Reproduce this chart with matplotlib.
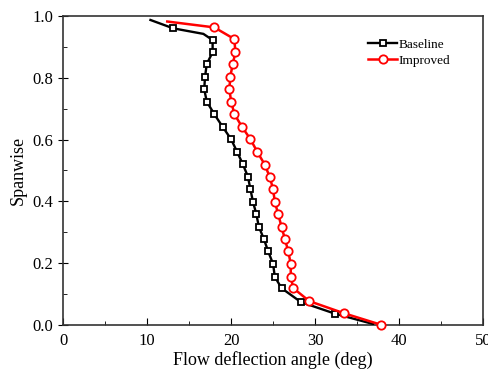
import matplotlib
matplotlib.use('Agg')
import matplotlib.pyplot as plt
from matplotlib.ticker import MultipleLocator

plt.rcParams['font.family'] = ['Liberation Serif', 'DejaVu Serif']

# Baseline (black squares)
base_x = [10.4, 13.1, 16.7, 17.8, 17.8, 17.1, 16.9, 16.8, 17.1, 18.0, 19.0, 20.0, 20.7,
          21.4, 22.0, 22.3, 22.6, 23.0, 23.3, 23.9, 24.4, 25.0, 25.2, 26.0, 28.3, 32.4, 36.9]
base_y = [0.987, 0.960, 0.942, 0.922, 0.883, 0.844, 0.804, 0.763, 0.723, 0.682, 0.641, 0.601, 0.561,
          0.520, 0.480, 0.439, 0.399, 0.359, 0.318, 0.278, 0.239, 0.197, 0.156, 0.119, 0.074, 0.036, 0.003]
base_marks = [1] + list(range(3, 26))

# Improved (red circles)
imp_x = [12.4, 18.0, 20.4, 20.5, 20.2, 19.9, 19.8, 20.0, 20.4, 21.3, 22.3, 23.1,
         24.0, 24.6, 25.0, 25.2, 25.6, 26.0, 26.4, 26.8, 27.1, 27.1, 27.4, 29.3, 33.4, 37.9]
imp_y = [0.982, 0.963, 0.925, 0.882, 0.844, 0.804, 0.763, 0.723, 0.682, 0.641, 0.601, 0.561,
         0.519, 0.479, 0.439, 0.399, 0.359, 0.318, 0.278, 0.239, 0.197, 0.156, 0.119, 0.077, 0.038, 0.0]
imp_marks = list(range(1, 26))

fig = plt.figure(figsize=(4.89, 3.80), dpi=100)
ax = fig.add_axes([0.129, 0.145, 0.859, 0.813])

ax.plot(base_x, base_y, color='black', lw=1.7, marker='s', ms=5, mfc='white', mec='black',
        mew=1.3, markevery=base_marks, label='Baseline', zorder=3)
ax.plot(imp_x, imp_y, color='red', lw=1.8, marker='o', ms=6, mfc='white', mec='red',
        mew=1.3, markevery=imp_marks, label='Improved', clip_on=False, zorder=4)

ax.set_xlim(0, 50)
ax.set_ylim(0, 1.0)
ax.xaxis.set_major_locator(MultipleLocator(10))
ax.xaxis.set_minor_locator(MultipleLocator(5))
ax.yaxis.set_major_locator(MultipleLocator(0.2))
ax.yaxis.set_minor_locator(MultipleLocator(0.1))
ax.yaxis.set_major_formatter(plt.FormatStrFormatter('%.1f'))
ax.tick_params(axis='x', which='major', direction='in', length=5, labelsize=12, pad=6)
ax.tick_params(axis='x', which='minor', direction='in', length=3)
ax.tick_params(axis='y', which='major', direction='inout', length=7, labelsize=12)
ax.tick_params(axis='y', which='minor', direction='in', length=3)
for s in ax.spines.values():
    s.set_linewidth(1.2)
    s.set_color('#333333')

ax.set_xlabel('Flow deflection angle (deg)', fontsize=13, labelpad=1)
ax.set_ylabel('Spanwise', fontsize=13)

ax.legend(loc='upper right', bbox_to_anchor=(0.95, 0.965), frameon=False, fontsize=9.5,
          handlelength=2.2, handletextpad=0.1, labelspacing=0.3)

fig.savefig('out.png', dpi=100)
